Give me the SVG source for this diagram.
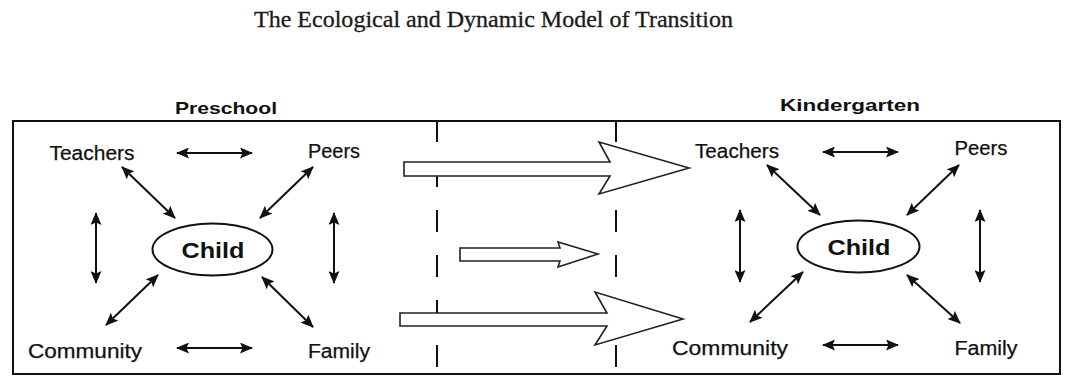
<svg xmlns="http://www.w3.org/2000/svg" width="1065" height="376" viewBox="0 0 1065 376">
<style>
.title{font-family:"Liberation Serif",serif;font-size:23px;fill:#1a1a1a;stroke:#1a1a1a;stroke-width:0.3}
.hdr{font-family:"Liberation Sans",sans-serif;font-size:17px;font-weight:bold;fill:#111;text-anchor:middle}
.lbl{font-family:"Liberation Sans",sans-serif;font-size:20px;fill:#111;stroke:#111;stroke-width:0.25;text-anchor:middle}
.child{font-family:"Liberation Sans",sans-serif;font-size:22px;font-weight:bold;fill:#111;text-anchor:middle}
.ell{fill:#fff;stroke:#111;stroke-width:2}
.conn{stroke:#111;stroke-width:2;fill:none;marker-start:url(#ah);marker-end:url(#ah)}
.dash{stroke:#111;stroke-width:2;stroke-dasharray:22 23;fill:none}
.block{fill:#fff;stroke:#222;stroke-width:1.6;stroke-linejoin:miter}
</style>
<defs>
<marker id="ah" viewBox="0 0 13 11" refX="12" refY="5.5" markerWidth="13" markerHeight="11" markerUnits="userSpaceOnUse" orient="auto-start-reverse">
<path d="M0,0 L13,5.5 L0,11 L2.5,5.5 z" fill="#111"/>
</marker>
</defs>
<rect width="1065" height="376" fill="#fff"/>
<text class="title" x="254" y="27" textLength="479" lengthAdjust="spacingAndGlyphs">The Ecological and Dynamic Model of Transition</text>
<g id="frame">
<rect x="13" y="121" width="1047" height="253" fill="none" stroke="#111" stroke-width="2"/>
<line class="dash" x1="437" y1="120" x2="437" y2="374"/>
<line class="dash" x1="616" y1="120" x2="616" y2="374"/>
</g>
<text class="hdr" x="226" y="114" textLength="102" lengthAdjust="spacingAndGlyphs">Preschool</text>
<text class="hdr" x="850" y="111" textLength="140" lengthAdjust="spacingAndGlyphs">Kindergarten</text>
<g id="transition-arrows">
<path class="block" d="M404,162 L610,162 L599,142 L689,168 L599,194 L610,176 L404,176 Z"/>
<path class="block" d="M460,248 L560,248 L558,242 L598,254 L558,267 L560,261 L460,261 Z"/>
<path class="block" d="M400,313 L607,313 L595,292 L683,319 L595,345 L607,326 L400,326 Z"/>
</g>
<g id="pre-teachers"><text class="lbl" x="92" y="160" textLength="85" lengthAdjust="spacingAndGlyphs">Teachers</text></g>
<g id="pre-peers"><text class="lbl" x="334" y="158" textLength="52" lengthAdjust="spacingAndGlyphs">Peers</text></g>
<g id="pre-community"><text class="lbl" x="85" y="358" textLength="114" lengthAdjust="spacingAndGlyphs">Community</text></g>
<g id="pre-family"><text class="lbl" x="339" y="358" textLength="62" lengthAdjust="spacingAndGlyphs">Family</text></g>
<g id="pre-child"><ellipse class="ell" cx="212.5" cy="249.5" rx="60" ry="26"/><text class="child" x="213" y="258" textLength="63" lengthAdjust="spacingAndGlyphs">Child</text></g>
<g id="kg-teachers"><text class="lbl" x="737" y="158" textLength="84" lengthAdjust="spacingAndGlyphs">Teachers</text></g>
<g id="kg-peers"><text class="lbl" x="981" y="155" textLength="53" lengthAdjust="spacingAndGlyphs">Peers</text></g>
<g id="kg-community"><text class="lbl" x="730" y="355" textLength="116" lengthAdjust="spacingAndGlyphs">Community</text></g>
<g id="kg-family"><text class="lbl" x="986" y="355" textLength="63" lengthAdjust="spacingAndGlyphs">Family</text></g>
<g id="kg-child"><ellipse class="ell" cx="858.5" cy="246.5" rx="61" ry="26"/><text class="child" x="859" y="255" textLength="63" lengthAdjust="spacingAndGlyphs">Child</text></g>
<g id="connectors">
<line class="conn" x1="177" y1="153" x2="252" y2="153"/>
<line class="conn" x1="177" y1="348" x2="252" y2="348"/>
<line class="conn" x1="122" y1="167" x2="175" y2="218"/>
<line class="conn" x1="313" y1="167" x2="260" y2="218"/>
<line class="conn" x1="106" y1="325" x2="158" y2="275"/>
<line class="conn" x1="262" y1="277" x2="313" y2="327"/>
<line class="conn" x1="96" y1="213" x2="96" y2="283"/>
<line class="conn" x1="334" y1="213" x2="334" y2="283"/>
<line class="conn" x1="823" y1="152" x2="898" y2="152"/>
<line class="conn" x1="823" y1="345" x2="898" y2="345"/>
<line class="conn" x1="767" y1="165" x2="820" y2="215"/>
<line class="conn" x1="959" y1="165" x2="907" y2="215"/>
<line class="conn" x1="750" y1="322" x2="803" y2="272"/>
<line class="conn" x1="907" y1="275" x2="960" y2="323"/>
<line class="conn" x1="740" y1="210" x2="740" y2="282"/>
<line class="conn" x1="980" y1="210" x2="980" y2="282"/>
</g>
</svg>
